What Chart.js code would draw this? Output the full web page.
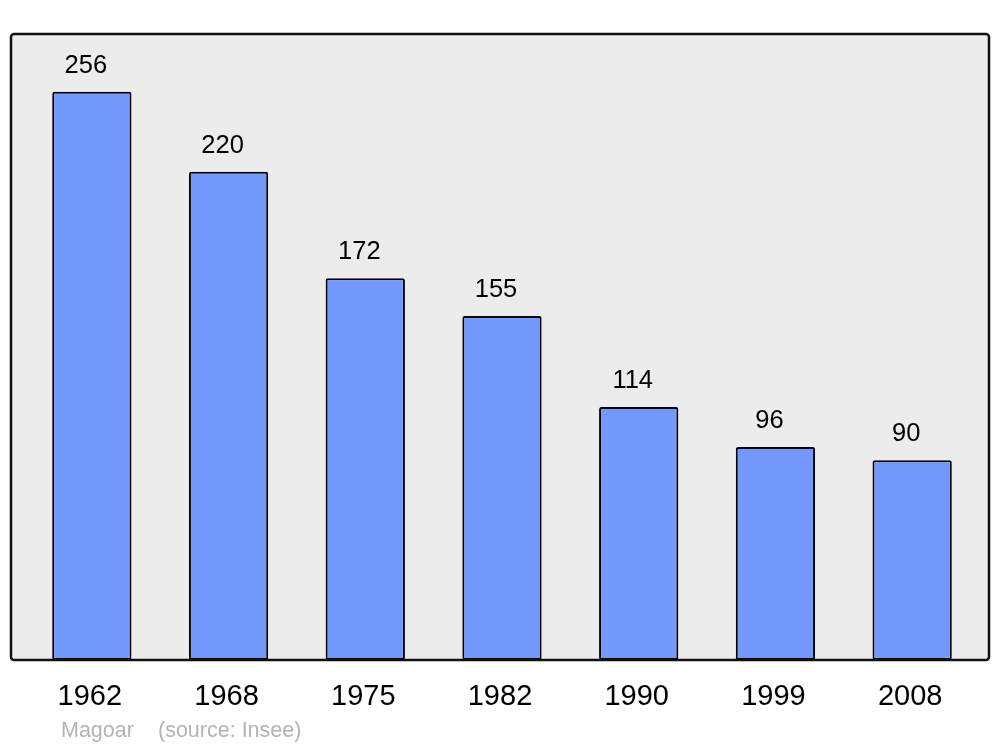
<!DOCTYPE html>
<html>
<head>
<meta charset="utf-8">
<script src="https://cdn.jsdelivr.net/npm/chart.js@4"></script>
<style>
  html, body { margin: 0; padding: 0; background: #fff; }
  #wrap { width: 1000px; height: 747px; }
</style>
</head>
<body>
<div id="wrap"><canvas id="chart" width="1000" height="747"></canvas></div>
<script>
// data
const years = ['1962', '1968', '1975', '1982', '1990', '1999', '2008'];
const population = [256, 220, 172, 155, 114, 96, 90];
const footerName = 'Magoar';
const footerSource = '(source: Insee)';

const FONT = '"Liberation Sans", Arial, sans-serif';

// grey framed panel behind the bars
const panelPlugin = {
  id: 'panel',
  beforeDatasetsDraw(chart) {
    const { ctx, chartArea } = chart;
    const x0 = 11, x1 = 989, y0 = chartArea.top, y1 = chartArea.bottom;
    ctx.save();
    ctx.beginPath();
    ctx.roundRect(x0, y0, x1 - x0, y1 - y0, 3);
    ctx.fillStyle = '#ececec';
    ctx.fill();
    ctx.restore();
  },
  afterDatasetsDraw(chart) {
    const { ctx, chartArea } = chart;
    const x0 = 11, x1 = 989, y0 = chartArea.top, y1 = chartArea.bottom;
    ctx.save();
    ctx.beginPath();
    ctx.roundRect(x0, y0, x1 - x0, y1 - y0, 3);
    ctx.lineWidth = 2.5;
    ctx.strokeStyle = '#111';
    ctx.stroke();

    // value labels above the bars (sit a little left of centre in the original)
    const meta = chart.getDatasetMeta(0);
    ctx.fillStyle = '#000';
    ctx.font = '25.5px ' + FONT;
    ctx.textAlign = 'center';
    ctx.textBaseline = 'middle';
    meta.data.forEach((bar, i) => {
      ctx.fillText(String(population[i]), bar.x - 6, bar.y - 26);
    });

    // footer
    ctx.fillStyle = '#b3b3b3';
    ctx.font = '21.5px ' + FONT;
    ctx.textAlign = 'left';
    ctx.fillText(footerName, 61, 731);
    ctx.fillText(footerSource, 158, 731);
    ctx.restore();
  }
};

new Chart(document.getElementById('chart'), {
  type: 'bar',
  data: {
    labels: years,
    datasets: [{
      data: population,
      backgroundColor: '#7399ff',
      borderColor: '#000',
      borderWidth: 2,
      borderRadius: 2,
      borderSkipped: false,
      barPercentage: 0.58,
      categoryPercentage: 1
    }]
  },
  options: {
    responsive: false,
    animation: false,
    layout: { padding: { left: 23.5, right: 19.5, top: 34, bottom: 0 } },
    plugins: {
      legend: { display: false },
      tooltip: { enabled: false }
    },
    scales: {
      x: {
        grid: { display: false, drawTicks: false },
        border: { display: false },
        ticks: {
          color: '#000',
          padding: 20,
          labelOffset: -2,
          font: { size: 29, family: FONT }
        },
        afterFit(scale) { scale.height = 87; }
      },
      y: {
        display: false,
        min: 0,
        max: 282
      }
    }
  },
  plugins: [panelPlugin]
});
</script>
</body>
</html>
